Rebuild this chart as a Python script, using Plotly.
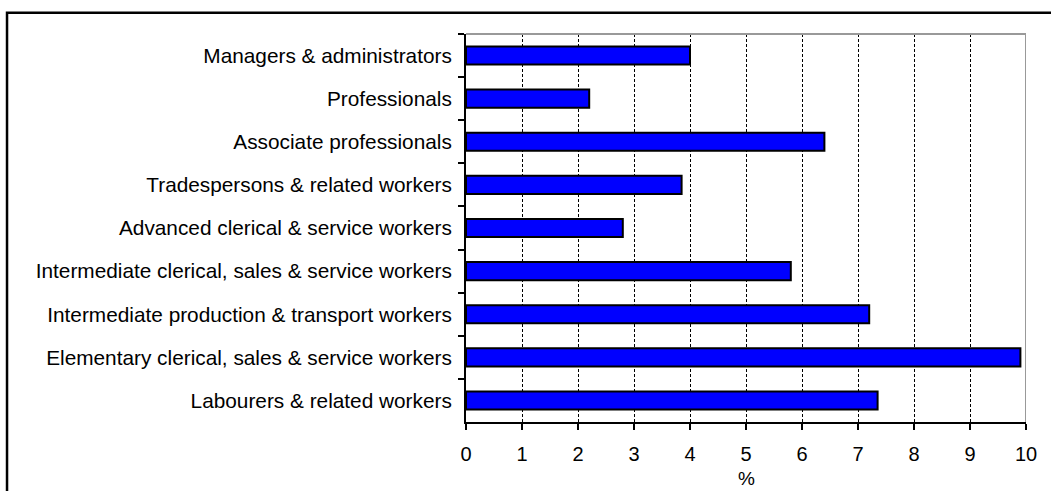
import plotly.graph_objects as go

categories = [
    "Managers & administrators",
    "Professionals",
    "Associate professionals",
    "Tradespersons & related workers",
    "Advanced clerical & service workers",
    "Intermediate clerical, sales & service workers",
    "Intermediate production & transport workers",
    "Elementary clerical, sales & service workers",
    "Labourers & related workers",
]
values = [4.0, 2.2, 6.4, 3.85, 2.8, 5.8, 7.2, 9.9, 7.35]
x_ticks = [0, 1, 2, 3, 4, 5, 6, 7, 8, 9, 10]
x_title = "%"

FONT = "Liberation Sans, Arial, sans-serif"

fig = go.Figure()
fig.add_trace(go.Bar(
    y=categories, x=values, orientation="h",
    width=0.42,
    marker=dict(color="#0000FF", line=dict(color="black", width=2)),
))

fig.update_layout(
    width=1051, height=491,
    margin=dict(l=466, r=25, t=34, b=69),
    paper_bgcolor="white", plot_bgcolor="white",
    showlegend=False,
    font=dict(family=FONT, color="black"),
    xaxis=dict(
        range=[0, 10], tickvals=x_ticks, ticktext=[str(v) for v in x_ticks],
        showgrid=True, gridcolor="black", griddash="3px,2px", gridwidth=1,
        showline=True, linecolor="black", linewidth=2,
        ticks="outside", ticklen=6, tickwidth=1.5, tickcolor="black",
        tickfont=dict(size=20, family=FONT), zeroline=False,
        ticklabelstandoff=7,
    ),
    yaxis=dict(
        categoryorder="array", categoryarray=categories, autorange="reversed",
        showline=True, linecolor="black", linewidth=2,
        ticks="outside", ticklen=6, tickwidth=1.5, tickcolor="black",
        tickson="boundaries", showgrid=False, zeroline=False,
        tickfont=dict(size=20.8, family=FONT),
        ticklabelstandoff=8,
    ),
    shapes=[
        dict(type="line", xref="x", yref="paper", x0=0, x1=10, y0=1, y1=1,
             line=dict(color="#999999", width=2)),
        dict(type="line", xref="x", yref="paper", x0=10, x1=10, y0=0, y1=1,
             line=dict(color="#999999", width=2)),
        dict(type="rect", xref="paper", yref="paper",
             x0=-0.8196, x1=1.2, y0=-0.4, y1=1.0549,
             line=dict(color="black", width=2.5)),
    ],
    annotations=[
        dict(text=x_title, xref="x", yref="paper", x=5, y=-0.145,
             showarrow=False, font=dict(size=19, family=FONT),
             xanchor="center", yanchor="middle"),
    ],
)

fig.write_html("out.html")
